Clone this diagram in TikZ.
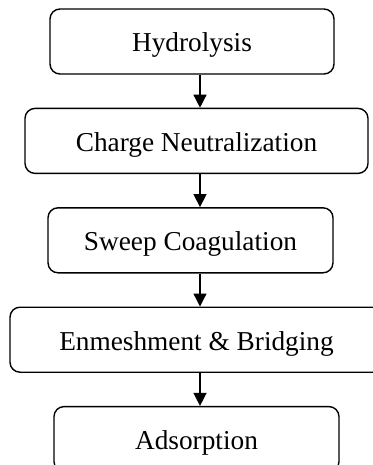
\documentclass[tikz,border=0pt]{standalone}
\usepackage{fontspec}
\setmainfont{Liberation Serif}
\usetikzlibrary{arrows.meta, positioning}

\begin{document}
\begin{tikzpicture}[x=1pt, y=1pt,
                stage/.style={draw, line width=1.4pt, rounded corners=10pt, inner sep=0pt,
                              minimum height=65pt, text height=22pt, text depth=1pt, align=center,
                              font=\fontsize{27.3}{32}\selectfont},
                flow/.style={-{Triangle[width=13pt, length=13pt]}, line width=1.4pt}]

                \useasboundingbox (0,0) rectangle (372,-465);

                % Process stages
                \node[stage, minimum width=284pt] (hyd) at (192,-41.5) {Hydrolysis};
                \node[stage, minimum width=343pt, below=33pt of hyd, xshift=4.5pt] (neut) {Charge Neutralization};
                \node[stage, minimum width=285pt, below=33pt of neut, xshift=-6pt] (sweep) {Sweep Coagulation};
                \node[stage, minimum width=373pt, below=33pt of sweep, xshift=6pt] (bridge) {Enmeshment \& Bridging};
                \node[stage, minimum width=285pt, below=33pt of bridge] (ads) {Adsorption};

                % Arrows between stages
                \coordinate (ax) at (200,0);
                \draw[flow] (hyd.south -| ax) -- (neut.north -| ax);
                \draw[flow] (neut.south -| ax) -- (sweep.north -| ax);
                \draw[flow] (sweep.south -| ax) -- (bridge.north -| ax);
                \draw[flow] (bridge.south -| ax) -- (ads.north -| ax);
            \end{tikzpicture}
\end{document}
